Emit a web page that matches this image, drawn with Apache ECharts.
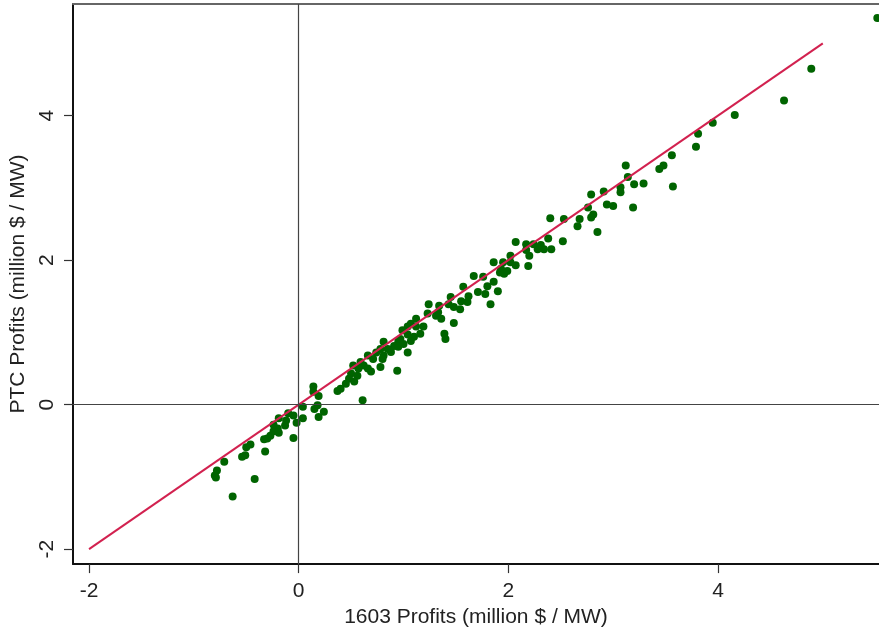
<!DOCTYPE html>
<html>
<head>
<meta charset="utf-8">
<script src="https://cdn.jsdelivr.net/npm/echarts@6/dist/echarts.min.js"></script>
<style>
  html, body { margin: 0; padding: 0; background: #fff; }
  #main { width: 879px; height: 633px; }
</style>
</head>
<body>
<div id="main"></div>
<script>
// 1603 profits (x) vs PTC profits (y), million $ / MW
const profits1603 = [
  0.61, 0.18, 0.15, 0.24, 0.19, 0.04, 0.04, -0.02, -0.05, -0.10,
  -0.12, -0.19, -0.13, -0.20, -0.24, -0.24, -0.27, -0.19, -0.30, -0.33,
  -0.05, -0.46, -0.50, -0.32, -0.51, -0.54, -0.71, -0.78, -0.80, -0.79,
  -0.42, -0.63, 0.19,
  1.86, 1.92, 1.67, 1.76, 1.86, 1.80, 1.90, 1.78, 1.71, 1.62,
  1.57, 1.55, 1.61, 1.83, 1.45, 1.43, 1.48, 1.54, 1.24, 1.34,
  1.23, 1.31, 1.36, 1.33, 1.48, 1.12, 1.07, 1.04, 1.12, 1.19,
  0.99, 1.16, 1.10, 1.04, 1.07, 0.97, 0.95, 1.39, 1.40, 1.00,
  0.91, 0.95, 0.81, 0.85, 0.88, 0.78, 0.81, 1.04, 0.74, 0.71,
  0.66, 0.59, 0.62, 0.66, 0.69, 0.57, 0.52, 0.50, 0.56, 0.48,
  0.45, 0.53, 0.40, 0.78, 0.94, 0.80, 0.14, 0.14, 0.37,
  3.20, 3.07, 3.07, 2.91, 2.79, 2.94, 3.00, 3.19, 2.76, 2.81,
  2.79, 2.68, 2.66, 2.85, 2.53, 2.40, 2.52, 2.38, 2.31, 2.34,
  2.41, 2.28, 2.24, 2.17, 2.07, 2.20, 2.17, 2.02, 2.02, 2.07,
  2.19, 1.95, 1.93, 1.96, 1.99,
  5.52, 4.89, 4.63, 4.16, 3.95, 3.81, 3.79, 3.56, 3.57, 3.48,
  3.44, 3.29, 3.12, 3.14
];
const profitsPTC = [
  0.06, -0.01, -0.06, -0.10, -0.17, -0.03, -0.19, -0.25, -0.15, -0.12,
  -0.22, -0.19, -0.29, -0.33, -0.28, -0.37, -0.43, -0.39, -0.47, -0.48,
  -0.46, -0.55, -0.59, -0.65, -0.70, -0.72, -0.79, -0.91, -0.98, -1.01,
  -1.03, -1.27, 0.12,
  1.97, 1.83, 1.78, 1.77, 1.70, 1.64, 1.57, 1.53, 1.56, 1.50,
  1.63, 1.43, 1.42, 1.39, 1.49, 1.39, 1.35, 1.32, 1.39, 1.37,
  1.26, 1.23, 1.19, 1.28, 1.13, 1.19, 1.12, 1.08, 1.08, 1.08,
  1.03, 0.98, 0.94, 0.97, 0.88, 0.91, 0.87, 0.98, 0.91, 0.84,
  0.81, 0.80, 0.87, 0.77, 0.73, 0.77, 0.68, 0.72, 0.72, 0.63,
  0.68, 0.59, 0.54, 0.50, 0.46, 0.50, 0.54, 0.43, 0.40, 0.36,
  0.29, 0.32, 0.22, 0.52, 0.47, 0.63, 0.25, 0.18, 0.19,
  3.05, 3.01, 2.94, 2.95, 2.91, 2.77, 2.75, 2.73, 2.73, 2.63,
  2.59, 2.57, 2.47, 2.39, 2.57, 2.58, 2.26, 2.30, 2.21, 2.15,
  2.15, 2.15, 2.22, 2.22, 2.25, 2.06, 2.14, 2.06, 1.97, 1.93,
  1.92, 1.97, 1.88, 1.81, 1.85,
  5.35, 4.65, 4.21, 4.01, 3.90, 3.75, 3.57, 3.45, 3.02, 3.31,
  3.26, 3.06, 3.31, 3.15
];
// 45-degree reference line
const fitX = [-2, 5];
const fitY = [-2, 5];
const xTicks = [-2, 0, 2, 4];
const yTicks = [-2, 0, 2, 4];

const points = profits1603.map((x, i) => [x, profitsPTC[i]]);
const fitLine = fitX.map((x, i) => [x, fitY[i]]);

const chart = echarts.init(document.getElementById('main'), null, { renderer: 'canvas' });
const font = '"Liberation Sans", Arial, sans-serif';

const option = {
  backgroundColor: '#fff',
  animation: false,
  grid: { left: 73, right: 0, top: 4, bottom: 67 },
  xAxis: [
    {
      type: 'value',
      min: -2.153,
      max: 5.536,
      position: 'bottom',
      name: '1603 Profits (million $ / MW)',
      nameLocation: 'middle',
      nameGap: 42,
      nameTextStyle: { fontFamily: font, fontSize: 21, color: '#222' },
      axisLine: { onZero: false, lineStyle: { color: '#111', width: 2 } },
      axisTick: { show: true, length: 9, customValues: xTicks, lineStyle: { color: '#333', width: 1.2 } },
      axisLabel: { customValues: xTicks, fontFamily: font, fontSize: 21, color: '#222', margin: 17 },
      splitLine: { show: false }
    },
    {
      type: 'value',
      min: -2.153,
      max: 5.536,
      position: 'top',
      axisLine: { onZero: false, lineStyle: { color: '#666', width: 2 } },
      axisTick: { show: false },
      axisLabel: { show: false },
      splitLine: { show: false }
    }
  ],
  yAxis: {
    type: 'value',
    min: -2.207,
    max: 5.545,
    name: 'PTC Profits (million $ / MW)',
    nameLocation: 'middle',
    nameGap: 34,
    nameTextStyle: { fontFamily: font, fontSize: 21, color: '#222' },
    axisLine: { show: true, onZero: false, lineStyle: { color: '#111', width: 2 } },
    axisTick: { show: true, length: 9, customValues: yTicks, lineStyle: { color: '#333', width: 1.2 } },
    axisLabel: { customValues: yTicks, rotate: 90, fontFamily: font, fontSize: 21, color: '#222', margin: 15 },
    splitLine: { show: false }
  },
  series: [
    {
      // zero reference lines
      type: 'scatter',
      data: [],
      z: 1,
      markLine: {
        silent: true,
        symbol: 'none',
        label: { show: false },
        lineStyle: { color: '#444', width: 1.2, type: 'solid' },
        data: [{ xAxis: 0 }, { yAxis: 0 }]
      }
    },
    {
      name: 'plants',
      type: 'scatter',
      data: points,
      symbolSize: 8,
      itemStyle: { color: '#006400', opacity: 1 },
      z: 2
    },
    {
      name: '45 degree',
      type: 'line',
      data: fitLine,
      symbol: 'none',
      lineStyle: { color: '#d2214f', width: 2 },
      z: 3
    }
  ]
};

chart.setOption(option);
</script>
</body>
</html>
